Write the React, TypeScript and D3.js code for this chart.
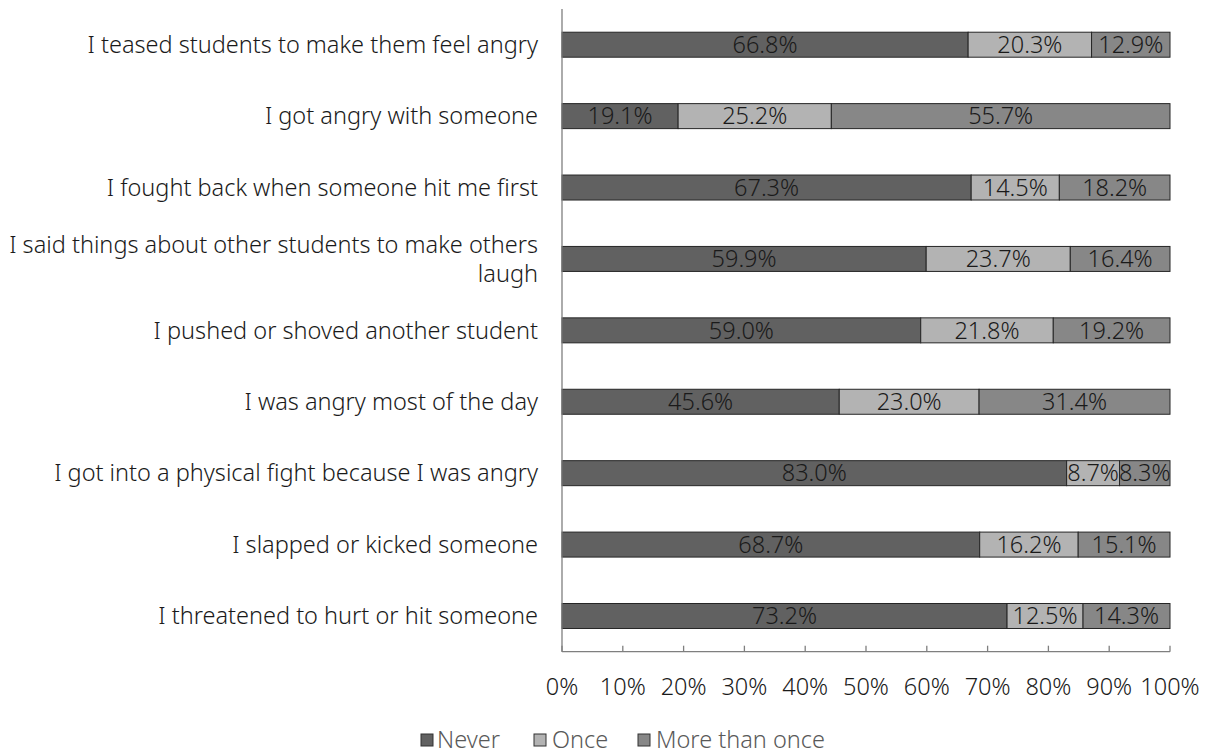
import React from "react";
import * as d3 from "d3";

const categories: string[][] = [
  ["I teased students to make them feel angry"],
  ["I got angry with someone"],
  ["I fought back when someone hit me first"],
  ["I said things about other students to make others", "laugh"],
  ["I pushed or shoved another student"],
  ["I was angry most of the day"],
  ["I got into a physical fight because I was angry"],
  ["I slapped or kicked someone"],
  ["I threatened to hurt or hit someone"],
];
const never = [66.8, 19.1, 67.3, 59.9, 59.0, 45.6, 83.0, 68.7, 73.2];
const once = [20.3, 25.2, 14.5, 23.7, 21.8, 23.0, 8.7, 16.2, 12.5];
const moreThanOnce = [12.9, 55.7, 18.2, 16.4, 19.2, 31.4, 8.3, 15.1, 14.3];
const seriesNames = ["Never", "Once", "More than once"];
const seriesColors = ["#616161", "#b3b3b3", "#878787"];
const xTicks = [0, 10, 20, 30, 40, 50, 60, 70, 80, 90, 100];

const W = 1212;
const H = 754;
const FONT = "'Noto Sans', Lato, sans-serif";
const FW = 300;
const FS = 23.5;

export default function App() {
  const left = 562, right = 1170, top = 9, bottom = 651.7;
  const x = d3.scaleLinear().domain([0, 100]).range([left, right]);
  const y = d3
    .scaleBand<number>()
    .domain(d3.range(categories.length))
    .range([top, bottom])
    .paddingInner(0.65)
    .paddingOuter(0.325);
  const series = [never, once, moreThanOnce];
  const stack = categories.map((_, i) => {
    let acc = 0;
    return series.map((s, k) => {
      const x0 = acc;
      acc += s[i];
      return { x0, x1: acc, v: s[i], k };
    });
  });
  const bw = y.bandwidth();
  const legendItems = [
    { sx: 421, tx: 437 },
    { sx: 534, tx: 552 },
    { sx: 638, tx: 656 },
  ];
  return (
    <svg
      width={W}
      height={H}
      style={{ position: "absolute", left: 0, top: 0, background: "#fff" }}
      fontFamily={FONT}
      fontWeight={FW}
    >
      {stack.map((segs, i) => (
        <g key={i}>
          {segs.map((s) => (
            <g key={s.k}>
              <rect
                x={x(s.x0)}
                y={y(i)!}
                width={x(s.x1) - x(s.x0)}
                height={bw}
                fill={seriesColors[s.k]}
                stroke="#262626"
                strokeWidth={1}
              />
              <text
                x={(x(s.x0) + x(s.x1)) / 2}
                y={y(i)! + bw / 2}
                dy="0.35em"
                textAnchor="middle"
                fontSize={FS}
                fill="#1a1a1a"
              >
                {s.v.toFixed(1) + "%"}
              </text>
            </g>
          ))}
        </g>
      ))}
      {categories.map((lines, i) => {
        const cy = y(i)! + bw / 2;
        if (lines.length === 1) {
          return (
            <text key={i} x={538} y={cy} dy="0.35em" textAnchor="end" fontSize={FS} fill="#1a1a1a">
              {lines[0]}
            </text>
          );
        }
        return (
          <g key={i}>
            <text x={538} y={cy - 14.5} dy="0.35em" textAnchor="end" fontSize={FS} fill="#1a1a1a">
              {lines[0]}
            </text>
            <text x={538} y={cy + 15} dy="0.35em" textAnchor="end" fontSize={FS} fill="#1a1a1a">
              {lines[1]}
            </text>
          </g>
        );
      })}
      <line x1={left} x2={left} y1={top} y2={bottom} stroke="#7f7f7f" strokeWidth={1.3} />
      <line x1={left} x2={right} y1={bottom} y2={bottom} stroke="#7f7f7f" strokeWidth={1.3} />
      {xTicks.map((t) => (
        <g key={t}>
          <line x1={x(t)} x2={x(t)} y1={bottom - 6} y2={bottom} stroke="#7f7f7f" strokeWidth={1.3} />
          <text x={x(t)} y={687} dy="0.35em" textAnchor="middle" fontSize={FS} fill="#1a1a1a">
            {t + "%"}
          </text>
        </g>
      ))}
      {seriesNames.map((n, k) => (
        <g key={n}>
          <rect x={legendItems[k].sx} y={734} width={12} height={12} fill={seriesColors[k]} stroke="#333" strokeWidth={1} />
          <text x={legendItems[k].tx} y={740} dy="0.35em" fontSize={FS} fill="#595959">
            {n}
          </text>
        </g>
      ))}
    </svg>
  );
}
